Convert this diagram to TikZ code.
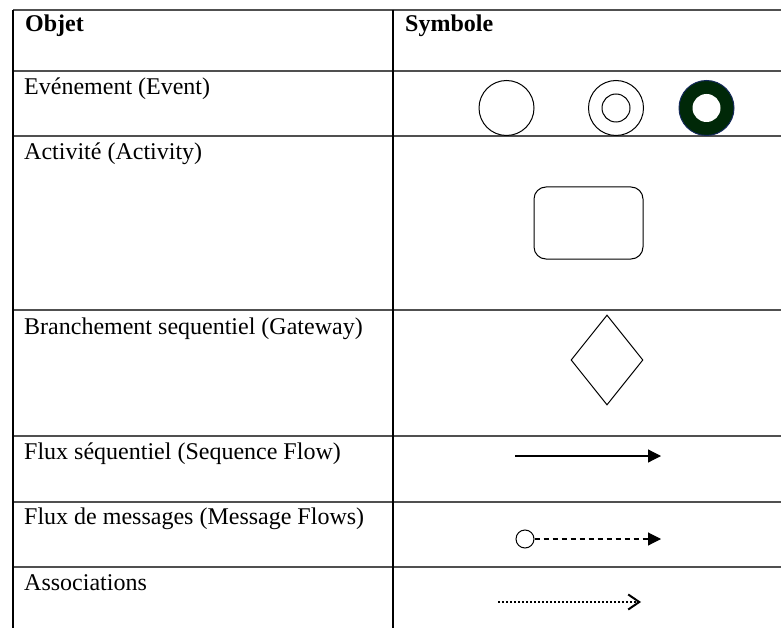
\documentclass[tikz,border=0pt]{standalone}
\usepackage{fontspec}
\setmainfont{Liberation Serif}
\usetikzlibrary{arrows.meta,shapes.geometric}
\definecolor{eventgreen}{RGB}{0,40,8}
\definecolor{eventedge}{RGB}{20,40,90}
\definecolor{rulegrey}{RGB}{80,80,80}
\begin{document}
\begin{tikzpicture}[x=1pt,y=-1pt,rule/.style={line width=1.3pt,draw=rulegrey},colrule/.style={line width=1.3pt,draw=black},cell/.style={anchor=base west,inner sep=0pt,font=\fontsize{24}{28}\selectfont},head/.style={cell,font=\fontsize{24}{28}\selectfont\bfseries},event/.style={circle,draw,line width=1pt,minimum size=55pt,inner sep=0pt},activity/.style={rectangle,draw,line width=1pt,rounded corners=12pt,minimum width=109pt,minimum height=72pt},gateway/.style={diamond,draw,line width=1pt,minimum width=72pt,minimum height=90pt,inner sep=0pt},seqflow/.style={line width=1.2pt,-{Triangle[length=13pt,width=13pt]}},msgflow/.style={line width=1.1pt,dash pattern=on 5pt off 4pt,-{Triangle[length=13pt,width=13pt]}},assoc/.style={line width=2.2pt,dash pattern=on 2pt off 2pt,-{Straight Barb[length=11pt,width=15pt,line width=2pt]}}]
\useasboundingbox (0,0) rectangle (781,628);
\draw[rule] (13,10) -- (781,10);
\draw[rule] (13,71) -- (781,71);
\draw[rule] (13,136) -- (781,136);
\draw[rule] (13,310) -- (781,310);
\draw[rule] (13,436) -- (781,436);
\draw[rule] (13,502) -- (781,502);
\draw[rule] (13,567) -- (781,567);
\draw[colrule] (13,10) -- (13,628);
\draw[colrule] (393,10) -- (393,628);
\node[head] (objet) at (25,32) {Objet};
\node[head] (symbole) at (405,32) {Symbole};
\node[cell] (evenement) at (24,95) {Evénement (Event)};
\node[cell] (activite) at (24,160) {Activité (Activity)};
\node[cell] (branchement) at (24,334) {Branchement sequentiel (Gateway)};
\node[cell] (fluxseq) at (24,459) {Flux séquentiel (Sequence Flow)};
\node[cell] (fluxmsg) at (24,524) {Flux de messages (Message Flows)};
\node[cell] (associations) at (24,590) {Associations};
\node[event] (start) at (506.5,108) {};
\node[event] (inter) at (616,108) {};
\node[event,minimum size=28pt] (interin) at (616,108) {};
\node[event,fill=eventgreen,draw=eventedge] (end) at (706.5,108) {};
\node[circle,fill=white,minimum size=28pt,inner sep=0pt] (endin) at (706.5,108) {};
\node[activity] (task) at (588.5,223) {};
\node[gateway] (gate) at (607,360) {};
\coordinate (seqA) at (515,456);
\coordinate (seqB) at (661,456);
\draw[seqflow] (seqA) -- (seqB);
\node[circle,draw,line width=1pt,minimum size=18pt,inner sep=0pt] (msgA) at (525,539) {};
\coordinate (msgB) at (661,539);
\draw[msgflow] (msgA) -- (msgB);
\coordinate (assA) at (498,602);
\coordinate (assB) at (641,602);
\draw[assoc] (assA) -- (assB);
\end{tikzpicture}
\end{document}
